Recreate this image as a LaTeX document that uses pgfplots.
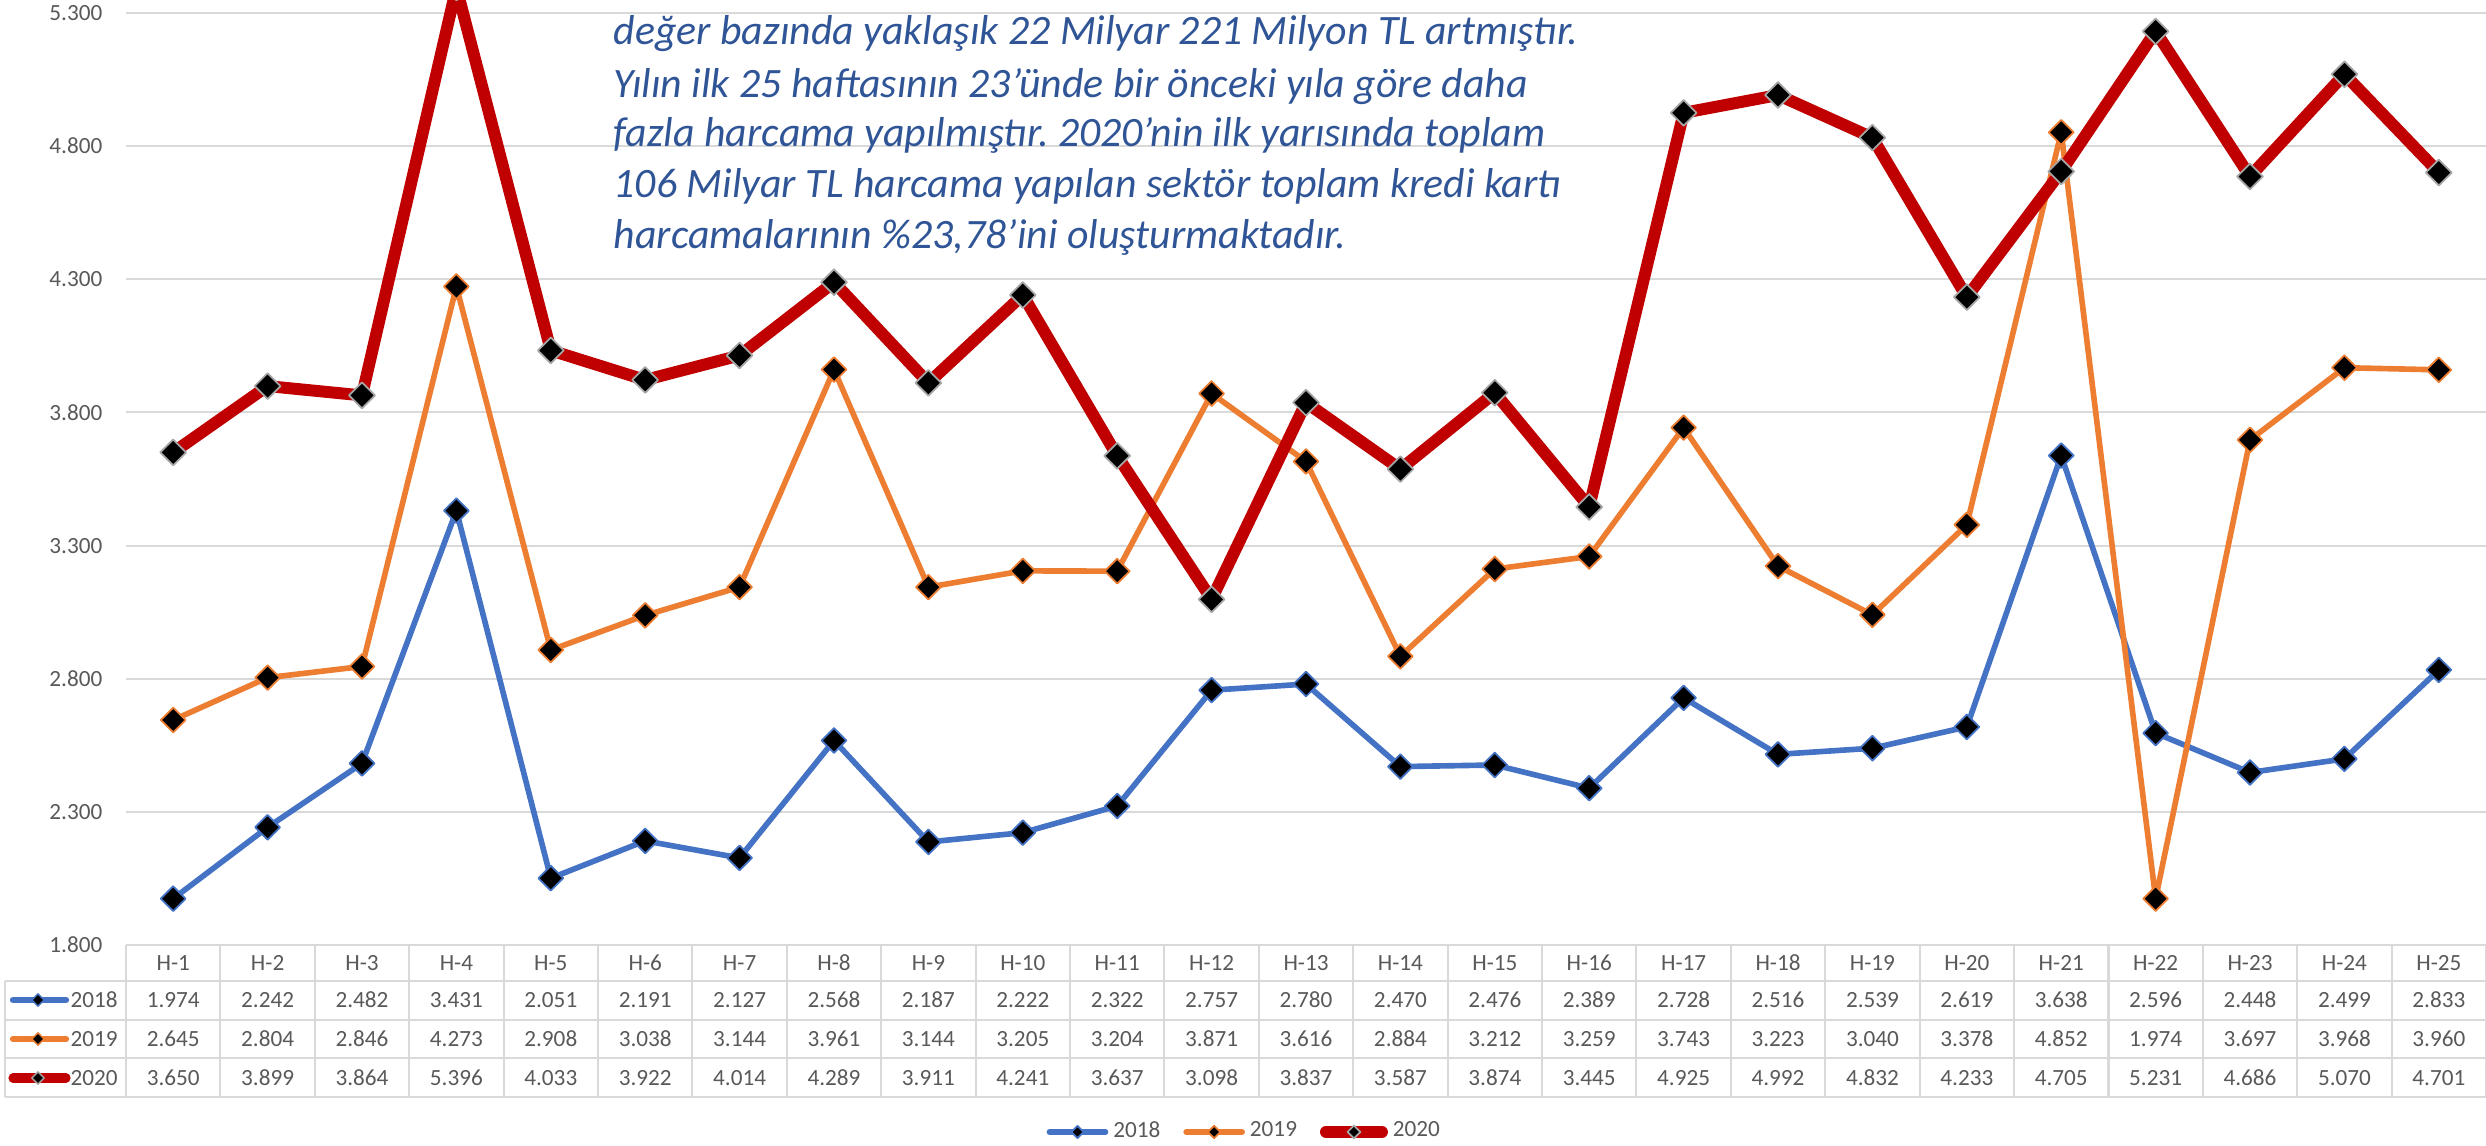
\documentclass[border=0pt]{standalone}
\usepackage{pgfplots}
\usepackage{pgfplotstable}
\pgfplotsset{compat=1.18}
\usetikzlibrary{shapes.geometric}
\usepackage{fontspec}
\setmainfont{Carlito}
\frenchspacing
\definecolor{c18}{HTML}{4472C4}
\definecolor{c19}{HTML}{ED7D31}
\definecolor{c20}{HTML}{C00000}
\definecolor{gridgray}{HTML}{D9D9D9}
\definecolor{txtgray}{HTML}{595959}
\definecolor{noteblue}{HTML}{2F5597}
\definecolor{mkgray}{HTML}{A6A6A6}
\newcommand\tfont{\fontsize{6.6}{8}\selectfont}
\pgfkeys{/pgf/number format/.cd, assume math mode=true, 1000 sep={.}}
\pgfplotstableread{
week y2018 y2019 y2020
1 1974 2645 3650
2 2242 2804 3899
3 2482 2846 3864
4 3431 4273 5396
5 2051 2908 4033
6 2191 3038 3922
7 2127 3144 4014
8 2568 3961 4289
9 2187 3144 3911
10 2222 3205 4241
11 2322 3204 3637
12 2757 3871 3098
13 2780 3616 3837
14 2470 2884 3587
15 2476 3212 3874
16 2389 3259 3445
17 2728 3743 4925
18 2516 3223 4992
19 2539 3040 4832
20 2619 3378 4233
21 3638 4852 4705
22 2596 1974 5231
23 2448 3697 4686
24 2499 3968 5070
25 2833 3960 4701
}\data
\begin{document}
\begin{tikzpicture}
\useasboundingbox (0,0) rectangle (248.6mm,114.5mm);
\begin{axis}[
  at={(12.6mm,20mm)}, anchor=south west,
  scale only axis, width=236mm, height=93.2mm,
  xmin=0.5, xmax=25.5, ymin=1800, ymax=5300,
  ytick={1800,2300,...,5300}, xtick=\empty,
  scaled y ticks=false,
  ymajorgrids, grid style={line width=0.6pt, color=gridgray},
  axis line style={draw=none}, major tick length=0pt,
  clip=false,
  /pgf/number format/assume math mode=true,
  /pgf/number format/1000 sep={.},
  yticklabel style={font=\tfont, text=txtgray, inner sep=0pt, xshift=-2.3mm},
  legend columns=3,
  legend style={at={(0.4745,-0.2006)}, anchor=center, draw=none, fill=none,
    font=\tfont, text=txtgray, inner sep=0pt,
    nodes={inner sep=0.5mm, text=txtgray},
    /tikz/every even column/.append style={column sep=1.8mm}},
  legend image code/.code={\draw[mark repeat=2,mark phase=2,#1,every mark/.append style={scale=0.5}] plot coordinates {(0mm,0mm) (2.8mm,0mm) (5.6mm,0mm)};},
]
\addplot[c18, line width=1.6pt, line cap=round, line join=round, mark=square*,
  mark size=2.5pt, mark options={solid, fill=black, draw=c18, line width=0.5pt, rotate=45}]
  table[x=week, y=y2018] {\data};
\addlegendentry{2018}
\addplot[c19, line width=1.6pt, line cap=round, line join=round, mark=square*,
  mark size=2.5pt, mark options={solid, fill=black, draw=c19, line width=0.5pt, rotate=45}]
  table[x=week, y=y2019] {\data};
\addlegendentry{2019}
\addplot[c20, line width=3.4pt, line cap=round, line join=round, mark=square*,
  mark size=2.6pt, mark options={solid, fill=black, draw=mkgray, line width=0.5pt, rotate=45}]
  table[x=week, y=y2020] {\data};
\addlegendentry{2020}
\end{axis}
\begin{scope}[x=0.1mm, y=-0.1mm, yshift=114.5mm]
  % table grid
  \foreach \k in {0,...,25}{
    \pgfmathsetmacro\vx{126+\k*94.4}
    \draw[gridgray, line width=0.6pt] (\vx,945) -- (\vx,1097);
  }
  \draw[gridgray, line width=0.6pt] (5,981) -- (5,1097);
  \foreach \yy in {981,1020,1058,1097}{
    \draw[gridgray, line width=0.6pt] (5,\yy) -- (2490,\yy);
  }
  % table text
  \foreach \i in {0,...,24}{
    \pgfmathsetmacro\cx{126+(\i+0.5)*94.4}
    \pgfmathtruncatemacro\h{\i+1}
    \node[font=\tfont, text=txtgray, inner sep=0pt] at (\cx,963) {H-\h};
    \pgfplotstablegetelem{\i}{y2018}\of\data
    \node[font=\tfont, text=txtgray, inner sep=0pt] at (\cx,1000) {\pgfmathprintnumber{\pgfplotsretval}};
    \pgfplotstablegetelem{\i}{y2019}\of\data
    \node[font=\tfont, text=txtgray, inner sep=0pt] at (\cx,1039) {\pgfmathprintnumber{\pgfplotsretval}};
    \pgfplotstablegetelem{\i}{y2020}\of\data
    \node[font=\tfont, text=txtgray, inner sep=0pt] at (\cx,1078) {\pgfmathprintnumber{\pgfplotsretval}};
  }
  % row keys
  \draw[c18, line width=1.8pt, line cap=round] (13,1000) -- (66,1000);
  \node[diamond, fill=black, draw=c18, line width=0.4pt, inner sep=0pt, minimum size=1.3mm] at (38,1000) {};
  \draw[c19, line width=1.8pt, line cap=round] (13,1039) -- (66,1039);
  \node[diamond, fill=black, draw=c19, line width=0.4pt, inner sep=0pt, minimum size=1.3mm] at (38,1039) {};
  \draw[c20, line width=2.6pt, line cap=round] (13,1078) -- (66,1078);
  \node[diamond, fill=black, draw=mkgray, line width=0.4pt, inner sep=0pt, minimum size=1.3mm] at (38,1078) {};
  \node[font=\tfont, text=txtgray, inner sep=0pt, anchor=west] at (70,1000) {2018};
  \node[font=\tfont, text=txtgray, inner sep=0pt, anchor=west] at (70,1039) {2019};
  \node[font=\tfont, text=txtgray, inner sep=0pt, anchor=west] at (70,1078) {2020};
  % note text
  \begin{scope}[every node/.style={anchor=base west, inner sep=0pt, text=noteblue, font=\fontsize{11.9}{14}\selectfont\itshape}]
    \node at (613,45) {değer bazında yaklaşık 22 Milyar 221 Milyon TL artmıştır.};
    \node at (613,97) {Yılın ilk 25 haftasının 23’ünde bir önceki yıla göre daha};
    \node at (613,147) {fazla harcama yapılmıştır. 2020’nin ilk yarısında toplam};
    \node at (613,197) {106 Milyar TL harcama yapılan sektör toplam kredi kartı};
    \node at (613,248) {harcamalarının \%23,78’ini oluşturmaktadır.};
  \end{scope}
\end{scope}
\end{tikzpicture}
\end{document}
